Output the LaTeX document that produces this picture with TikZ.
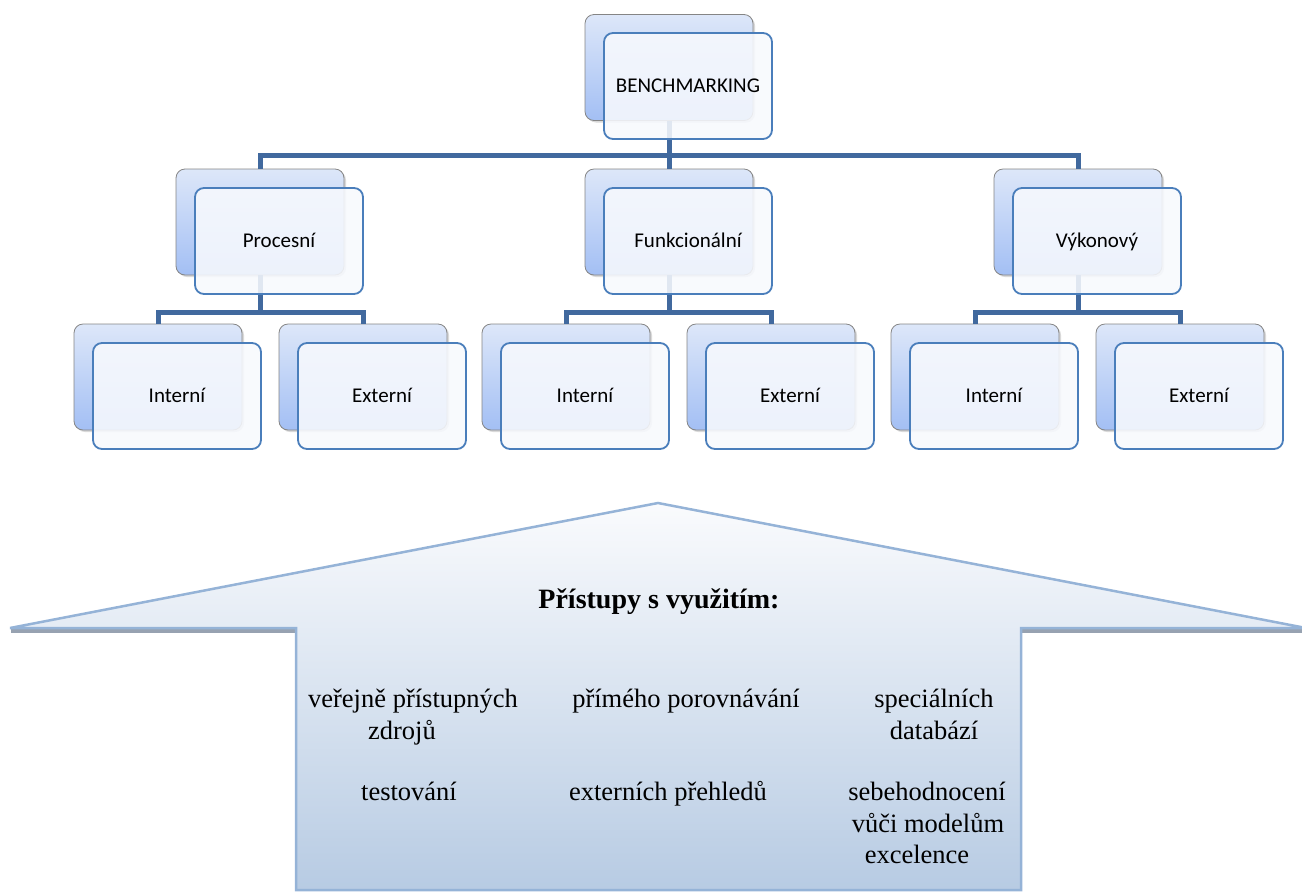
\documentclass[tikz,border=0pt]{standalone}
\usepackage{fontspec}
\setmainfont{Liberation Serif}
\newfontfamily\boxfont{Carlito}
\usetikzlibrary{shadows}
\definecolor{connc}{HTML}{41699E}
\definecolor{frontline}{HTML}{4A7EBB}
\definecolor{frontfill}{HTML}{F7F9FD}
\definecolor{backtop}{HTML}{DDE7F9}
\definecolor{backbot}{HTML}{A3BFF4}
\definecolor{backline}{HTML}{858585}
\definecolor{arrline}{HTML}{95B3D7}
\definecolor{arrtop}{HTML}{FAFBFD}
\definecolor{arrbot}{HTML}{B7CBE3}
\definecolor{arrshadow}{HTML}{97A2B1}
\begin{document}
\begin{tikzpicture}[x=1pt,y=1pt,
  backbox/.style={rectangle, rounded corners=9pt, minimum width=168pt, minimum height=106pt,
    draw=backline, line width=0.8pt, top color=backtop, bottom color=backbot,
    drop shadow={shadow xshift=2pt, shadow yshift=-2pt, opacity=0.3}},
  frontbox/.style={rectangle, rounded corners=9pt, minimum width=168pt, minimum height=106pt,
    draw=frontline, line width=1.8pt, fill=frontfill, fill opacity=0.88, text opacity=1,
    inner sep=0pt, text height=15pt, text depth=3pt, font=\boxfont\fontsize{21}{25}\selectfont},
  connector/.style={draw=connc, line width=5pt},
  bodytext/.style={anchor=base, inner sep=0pt, font=\fontsize{26.5}{32}\selectfont},
  titletext/.style={anchor=base, inner sep=0pt, font=\bfseries\fontsize{28}{34}\selectfont}
]
\useasboundingbox (0,0) rectangle (1302,-895);

% ---------- arrow (house shape) ----------
\fill[arrshadow] (11,-628) rectangle (297,-633);
\fill[arrshadow] (1021,-628) rectangle (1306,-633);
\draw[arrline, line width=2.5pt, top color=arrtop, bottom color=arrbot]
  (658,-503) -- (1306,-628) -- (1021,-628) -- (1021,-890) -- (296,-890) -- (296,-628) -- (10,-628) -- cycle;

\node[titletext] (title) at (659,-608) {Přístupy s využitím:};
\node[bodytext] (t1a) at (413,-707) {veřejně přístupných};
\node[bodytext] (t1b) at (402,-739) {zdrojů};
\node[bodytext] (t2) at (686,-707) {přímého porovnávání};
\node[bodytext] (t3a) at (934,-707) {speciálních};
\node[bodytext] (t3b) at (934,-739) {databází};
\node[bodytext] (t4) at (409,-800) {testování};
\node[bodytext] (t5) at (668,-800) {externích přehledů};
\node[bodytext] (t6a) at (927,-800) {sebehodnocení};
\node[bodytext] (t6b) at (928,-832) {vůči modelům};
\node[bodytext] (t6c) at (917,-863) {excelence};

% ---------- back boxes ----------
\node[backbox] (topB) at (669,-67.5) {};
\node[backbox] (procB) at (260,-222) {};
\node[backbox] (funB) at (669,-222) {};
\node[backbox] (vykB) at (1078,-222) {};
\node[backbox] (p1B) at (158,-377) {};
\node[backbox] (p2B) at (363,-377) {};
\node[backbox] (f1B) at (566,-377) {};
\node[backbox] (f2B) at (771,-377) {};
\node[backbox] (v1B) at (975,-377) {};
\node[backbox] (v2B) at (1180,-377) {};

% ---------- connectors ----------
\coordinate (tj) at (669,-155);
\coordinate (pj) at (260,-312);
\coordinate (fj) at (669,-312);
\coordinate (vj) at (1078,-312);
\draw[connector] (topB.south) -- (funB.north);
\draw[connector] (procB.north) |- (tj) -| (vykB.north);
\draw[connector] (procB.south) -- (pj);
\draw[connector] (p1B.north) |- (pj) -| (p2B.north);
\draw[connector] (funB.south) -- (fj);
\draw[connector] (f1B.north) |- (fj) -| (f2B.north);
\draw[connector] (vykB.south) -- (vj);
\draw[connector] (v1B.north) |- (vj) -| (v2B.north);

% ---------- front boxes ----------
\node[frontbox] (top) at (688,-86) {BENCHMARKING};
\node[frontbox] (proc) at (279,-241) {Procesní};
\node[frontbox] (fun) at (688,-241) {Funkcionální};
\node[frontbox] (vyk) at (1097,-241) {Výkonový};
\node[frontbox] (p1) at (177,-396) {Interní};
\node[frontbox] (p2) at (382,-396) {Externí};
\node[frontbox] (f1) at (585,-396) {Interní};
\node[frontbox] (f2) at (790,-396) {Externí};
\node[frontbox] (v1) at (994,-396) {Interní};
\node[frontbox] (v2) at (1199,-396) {Externí};
\end{tikzpicture}
\end{document}
